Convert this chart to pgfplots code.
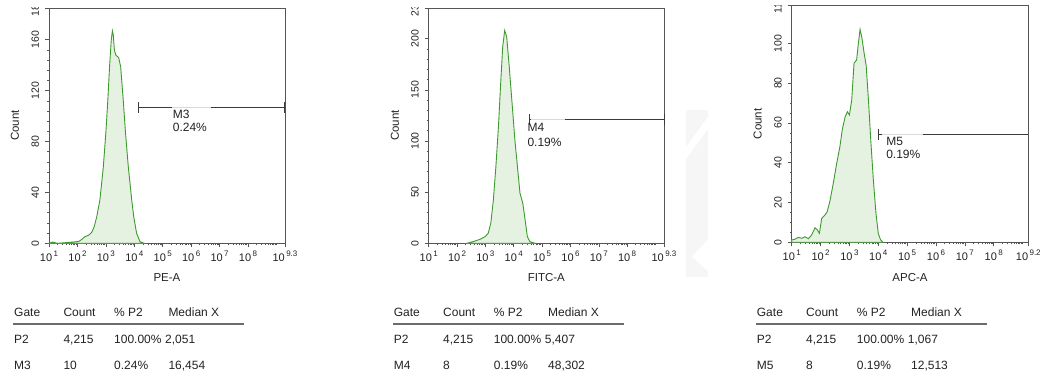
\documentclass[border=0pt]{standalone}
\usepackage{fontspec}
\setmainfont{Liberation Sans}
\usepackage{pgfplots}
\usepackage{pgfplotstable}
\pgfplotsset{compat=1.18}
\definecolor{histgreen}{HTML}{3C9A2E}
\definecolor{histfill}{HTML}{E6F2E1}
\definecolor{axgray}{HTML}{555555}
\definecolor{markcol}{HTML}{3A3A3A}
\definecolor{txt}{HTML}{222222}

\pgfplotstableread{
lx c
1.00 0
1.12 1
1.30 0
1.60 0.5
1.85 1
2.05 1.5
2.15 3
2.25 5
2.40 6.5
2.50 8.5
2.59 13
2.68 21
2.79 34
2.91 60
3.00 87
3.07 113
3.13 139
3.19 160
3.23 167
3.26 164
3.30 152
3.35 148
3.45 146
3.52 139
3.61 113
3.69 87
3.79 60
3.91 34
3.98 21
4.08 8
4.20 1.3
4.35 0
}\pedata

\pgfplotstableread{
lx c
2.34 0
2.57 1.6
2.81 3.9
2.99 6.5
3.10 9.8
3.19 19.6
3.28 42
3.37 75
3.46 114
3.54 157
3.61 192
3.68 208
3.75 202
3.84 173
3.96 130
4.04 101
4.13 75
4.22 49
4.32 39
4.40 23
4.48 6.5
4.57 1.6
4.75 0
}\fitcdata

\pgfplotstableread{
lx c
1.00 1.2
1.11 1.5
1.23 2.5
1.35 2
1.46 2.8
1.58 1.8
1.69 3.7
1.81 7.3
1.89 6.2
1.96 4.5
2.04 12
2.15 13.7
2.23 15.4
2.33 21
2.44 29.6
2.56 39.7
2.67 48
2.75 56.4
2.85 63
2.93 65.6
3.00 64
3.08 71.5
3.16 90
3.25 91.6
3.31 100
3.37 107
3.43 103
3.51 95
3.58 89
3.66 71.5
3.74 51.4
3.83 31.3
3.92 14.6
4.00 4.5
4.08 1.2
4.17 0
}\apcdata

\newcommand{\dec}[1]{10\hspace{1.4pt}\raisebox{4.6pt}{\fontsize{8}{9}\selectfont #1}}
\def\minorlog{1.301,1.477,1.602,1.699,1.778,1.845,1.903,1.954,
2.301,2.477,2.602,2.699,2.778,2.845,2.903,2.954,
3.301,3.477,3.602,3.699,3.778,3.845,3.903,3.954,
4.301,4.477,4.602,4.699,4.778,4.845,4.903,4.954,
5.301,5.477,5.602,5.699,5.778,5.845,5.903,5.954,
6.301,6.477,6.602,6.699,6.778,6.845,6.903,6.954,
7.301,7.477,7.602,7.699,7.778,7.845,7.903,7.954,
8.301,8.477,8.602,8.699,8.778,8.845,8.903,8.954,9}

\tikzset{mtext/.style={font=\fontsize{12}{14}\selectfont, text=txt, anchor=west, inner sep=0pt}}

\pgfplotsset{
  flowax/.style={
    scale only axis, anchor=south west, clip=false,
    xmin=1, ymin=0,
    axis line style={axgray, line width=0.9pt},
    every tick/.style={axgray, line width=0.6pt},
    tick align=outside, xtick pos=bottom, ytick pos=left,
    major tick length=4pt, minor tick length=2.2pt,
    minor xtick/.expanded={\minorlog},
    xticklabel style={font=\fontsize{11}{12}\selectfont, text=txt, anchor=north, yshift=-0.5pt},
    yticklabel style={xshift=-2.5pt, font=\fontsize{10.5}{12}\selectfont, text=txt, rotate=90, anchor=south},
    /pgf/number format/assume math mode=true,
    label style={font=\fontsize{11.5}{13}\selectfont, text=txt},
    xlabel style={at={(axis description cs:0.5,-0.1475)}, anchor=center},
    ylabel style={at={(axis description cs:-0.144,0.5)}, anchor=center},
    ylabel={Count},
  },
}

\newcommand{\ftable}[6]{%
  \begin{scope}[every node/.style={font=\fontsize{12}{14}\selectfont, text=txt, anchor=base west, inner sep=0pt}]
  \node at (#1pt-35pt,62pt) {Gate};
  \node at (#1pt+14.3pt,62pt) {Count};
  \node at (#1pt+65pt,62pt) {\% P2};
  \node at (#1pt+119.3pt,62pt) {Median X};
  \draw[line width=2pt, color=black!58] (#1pt-35.7pt,54.7pt) -- (#1pt+195pt,54.7pt);
  \node at (#1pt-35pt,35pt) {P2};
  \node at (#1pt+14.3pt,35pt) {4,215};
  \node at (#1pt+65pt,35pt) {100.00\%};
  \node at (#1pt+116pt,35pt) {#6};
  \node at (#1pt-35pt,9pt) {#2};
  \node at (#1pt+14.3pt,9pt) {#3};
  \node at (#1pt+65pt,9pt) {#4};
  \node at (#1pt+119.3pt,9pt) {#5};
  \end{scope}}

\begin{document}
\begin{tikzpicture}
\useasboundingbox (0,0) rectangle (1047pt,379pt);
\fill[black!3.5] (686pt,102pt) -- (708pt,102pt) -- (708pt,269pt) -- (686pt,269pt) -- cycle;
\fill[white] (686pt,232pt) -- (708pt,262pt) -- (708pt,250pt) -- (686pt,220pt) -- cycle;
\fill[white] (708pt,140pt) -- (692pt,122pt) -- (708pt,108pt) -- cycle;

% ---------- PE-A ----------
\begin{axis}[flowax, at={(49pt,135.7pt)}, width=236pt, height=235.3pt,
  xmax=9.3, ymax=185, ytick={0,40,80,120,160}, minor y tick num=4,
  extra y ticks={185},
  xtick={1,2,3,4,5,6,7,8,9.3},
  xticklabels={\dec{1},\dec{2},\dec{3},\dec{4},\dec{5},\dec{6},\dec{7},\dec{8},\dec{9.3}},
  xlabel={PE-A}]
\addplot[draw=histgreen, fill=histfill, line width=0.9pt] table[x=lx,y=c] {\pedata} \closedcycle;
\draw[markcol, line width=1pt] (axis cs:4.14,107) -- (axis cs:9.3,107);
\draw[black!15, line width=1pt] (axis cs:5.32,107) -- (axis cs:6.69,107);
\draw[markcol, line width=1pt] (axis cs:4.14,107) ++(0pt,-5.5pt) -- ++(0pt,11pt);
\draw[markcol, line width=1pt] (axis cs:9.3,107) ++(0pt,-5.5pt) -- ++(0pt,11pt);
\node[mtext] at (axis cs:5.35,101) {M3};
\node[mtext] at (axis cs:5.35,91) {0.24\%};
\end{axis}

% ---------- FITC-A ----------
\begin{axis}[flowax, at={(428.7pt,135.7pt)}, width=235.3pt, height=235.3pt,
  xmax=9.3, ymax=230, ytick={0,50,100,150,200}, minor y tick num=4,
  extra y ticks={230},
  xtick={1,2,3,4,5,6,7,8,9.3},
  xticklabels={\dec{1},\dec{2},\dec{3},\dec{4},\dec{5},\dec{6},\dec{7},\dec{8},\dec{9.3}},
  xlabel={FITC-A}]
\addplot[draw=histgreen, fill=histfill, line width=0.9pt] table[x=lx,y=c] {\fitcdata} \closedcycle;
\draw[markcol, line width=1pt] (axis cs:4.57,120.7) -- (axis cs:9.3,120.7);
\draw[black!15, line width=1pt] (axis cs:4.6,120.7) -- (axis cs:5.81,120.7);
\draw[markcol, line width=1pt] (axis cs:4.57,120.7) ++(0pt,-5.5pt) -- ++(0pt,11pt);
\draw[markcol, line width=1pt] (axis cs:9.3,120.7) ++(0pt,-5.5pt) -- ++(0pt,11pt);
\node[mtext] at (axis cs:4.48,113) {M4};
\node[mtext] at (axis cs:4.48,98.5) {0.19\%};
\end{axis}

% ---------- APC-A ----------
\begin{axis}[flowax, at={(791.7pt,136.7pt)}, width=236.6pt, height=236.8pt,
  xmax=9.2, ymax=119, ytick={0,20,40,60,80,100}, minor y tick num=3,
  extra y ticks={119},
  xtick={1,2,3,4,5,6,7,8,9.2},
  xticklabels={\dec{1},\dec{2},\dec{3},\dec{4},\dec{5},\dec{6},\dec{7},\dec{8},\dec{9.2}},
  xlabel={APC-A}]
\addplot[draw=histgreen, fill=histfill, line width=0.9pt] table[x=lx,y=c] {\apcdata} \closedcycle;
\draw[markcol, line width=1pt] (axis cs:4.0,54.3) -- (axis cs:9.2,54.3);
\draw[black!15, line width=1pt] (axis cs:4.12,54.3) -- (axis cs:5.56,54.3);
\draw[markcol, line width=1pt] (axis cs:4.0,54.3) ++(0pt,-5.5pt) -- ++(0pt,11pt);
\node[mtext] at (axis cs:4.27,50.9) {M5};
\node[mtext] at (axis cs:4.27,44.2) {0.19\%};
\end{axis}

% clip the top tick labels as in the reference
\fill[white] (18pt,371.5pt) rectangle (47pt,379pt);
\fill[white] (397pt,371.5pt) rectangle (426.5pt,379pt);
\fill[white] (760pt,374pt) rectangle (789.5pt,379pt);

\ftable{49}{M3}{10}{0.24\%}{16,454}{2,051}
\ftable{428.7}{M4}{8}{0.19\%}{48,302}{5,407}
\ftable{791.7}{M5}{8}{0.19\%}{12,513}{1,067}
\end{tikzpicture}
\end{document}
